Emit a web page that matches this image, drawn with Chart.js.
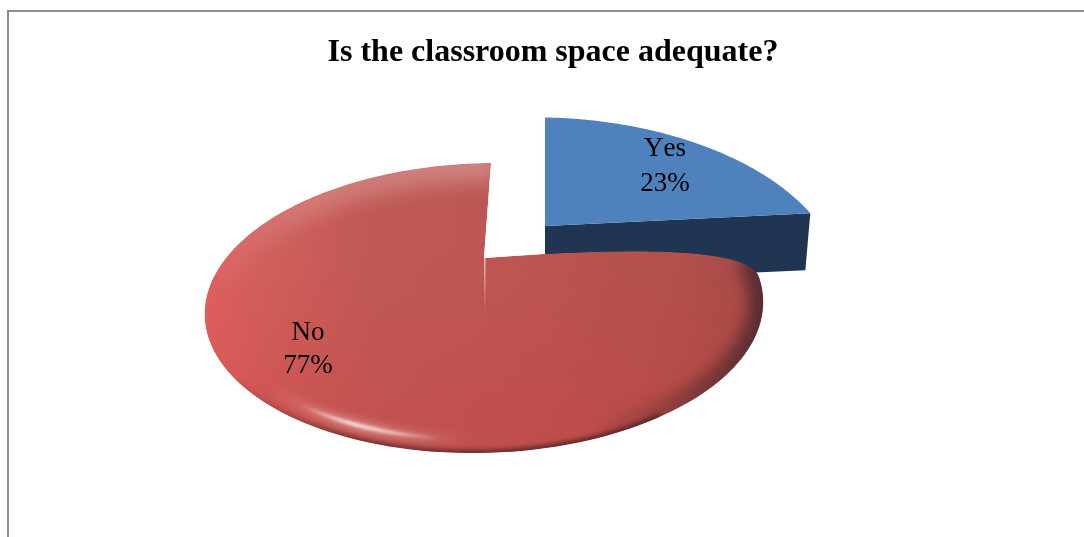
<!DOCTYPE html>
<html>
<head>
<meta charset="utf-8">
<title>Classroom space survey</title>
<script src="https://cdn.jsdelivr.net/npm/chart.js@4"></script>
<style>
  html, body { margin: 0; padding: 0; background: #fff; overflow: hidden; }
  #frame { position: absolute; left: 7px; top: 10px; width: 1077px; height: 527px;
           box-sizing: border-box; border-left: 2px solid #8c8c8c; border-top: 2px solid #8c8c8c; }
  #chart { position: absolute; left: 0; top: 0; }
</style>
</head>
<body>
<div id="frame"></div>
<canvas id="chart" width="1084" height="537"></canvas>
<script>
const titleText = 'Is the classroom space adequate?';
const categories = ['Yes', 'No'];
const shares = [23, 77];
const sliceColors = ['#4f81bd', '#c0504d'];
const sideColor = '#1f3552';
const serif = '"Liberation Serif", "Times New Roman", serif';

// Tilted-disc projection: each slice lies on its own plane, seen in perspective.
const planes = [
  { cx: 545, cy: 226, rx: 279, ry: 146, k: 0.345, m: 0, sx: 0, sy: -5 },
  { cx: 484, cy: 258, rx: 262, ry: 127.8, k: 0.345, m: -0.012, sx: 9.4, sy: 1 }
];
const labelAnchors = [{ x: 665, y: 149 }, { x: 308, y: 333 }];
const labelLeading = [35, 33];

// Chart.js angles start at 3 o'clock and run clockwise on screen.
function project(p, angle, r) {
  const u = Math.cos(angle) * r, v = -Math.sin(angle) * r;
  const w = 1 + p.k * v + p.m * u;
  return { x: p.cx + (p.rx * u + p.sx * v) / w, y: p.cy - (p.ry * v + p.sy * u) / w };
}
function rimPoints(p, a0, a1) {
  const pts = [], n = 160;
  for (let i = 0; i <= n; i++) pts.push(project(p, a0 + (a1 - a0) * i / n, 1));
  return pts;
}
function trace(ctx, pts) {
  pts.forEach((q, i) => i ? ctx.lineTo(q.x, q.y) : ctx.moveTo(q.x, q.y));
}
const deg = d => d * Math.PI / 180;
function fromTop(d) { return deg(d - 90); }

function strokeRim(ctx, p, d0, d1, width, blur, style) {
  ctx.save();
  ctx.filter = `blur(${blur}px)`;
  ctx.beginPath();
  trace(ctx, rimPoints(p, fromTop(d0), fromTop(d1)));
  ctx.lineWidth = width;
  ctx.lineCap = 'butt';
  ctx.strokeStyle = style;
  ctx.stroke();
  ctx.restore();
}

function drawYes(ctx, arc) {
  const p = planes[0];
  const apex = project(p, arc.startAngle, 0);
  const corner = project(p, arc.endAngle, 1);
  // cut face below the front edge
  ctx.beginPath();
  ctx.moveTo(apex.x, apex.y);
  ctx.lineTo(corner.x, corner.y);
  ctx.lineTo(corner.x - 5, corner.y + 57);
  ctx.lineTo(apex.x, apex.y + 56);
  ctx.closePath();
  ctx.fillStyle = sideColor;
  ctx.fill();
  // top surface
  ctx.beginPath();
  ctx.moveTo(apex.x, apex.y);
  rimPoints(p, arc.startAngle, arc.endAngle).forEach(q => ctx.lineTo(q.x, q.y));
  ctx.closePath();
  ctx.fillStyle = arc.options.backgroundColor;
  ctx.fill();
}

function drawNo(ctx, arc) {
  const p = planes[1];
  const apex = project(p, arc.startAngle, 0);
  const soft = arc.startAngle + deg(16);
  const c1 = project(p, arc.startAngle, 0.47);
  const c2 = project(p, arc.startAngle, 1);
  const end = project(p, soft, 1);
  const outline = new Path2D();
  outline.moveTo(apex.x, apex.y);
  outline.bezierCurveTo(c1.x - 5, c1.y - 1, c2.x + 14, c2.y + 2, end.x, end.y);
  rimPoints(p, soft, arc.endAngle).forEach(q => outline.lineTo(q.x, q.y));
  outline.closePath();

  ctx.save();
  ctx.clip(outline);

  const base = ctx.createLinearGradient(204, 0, 762, 0);
  base.addColorStop(0, '#e0625f');
  base.addColorStop(0.1, '#d25f5c');
  base.addColorStop(0.3, '#bf5a56');
  base.addColorStop(0.62, '#bb5551');
  base.addColorStop(0.85, '#b0504c');
  base.addColorStop(1, '#a44a47');
  ctx.fillStyle = base;
  ctx.fill(outline);

  const depth = ctx.createLinearGradient(0, 250, 0, 453);
  depth.addColorStop(0, 'rgba(205,60,60,0)');
  depth.addColorStop(0.75, 'rgba(200,60,60,0.25)');
  depth.addColorStop(1, 'rgba(200,60,60,0.28)');
  ctx.fillStyle = depth;
  ctx.fill(outline);

  // pale bevel along the far edge
  const pale = ctx.createLinearGradient(204, 0, 490, 0);
  pale.addColorStop(0, 'rgba(228,170,168,0)');
  pale.addColorStop(0.35, 'rgba(228,170,168,0.38)');
  pale.addColorStop(1, 'rgba(228,180,178,0.5)');
  strokeRim(ctx, p, 262, 362, 36, 10, pale);

  // shaded bevel on the right and near edges
  const right = ctx.createLinearGradient(590, 0, 762, 0);
  right.addColorStop(0, 'rgba(60,35,40,0)');
  right.addColorStop(1, 'rgba(60,35,40,0.72)');
  strokeRim(ctx, p, 90, 172, 30, 7, right);
  const near = ctx.createLinearGradient(230, 0, 560, 0);
  near.addColorStop(0, 'rgba(70,30,32,0)');
  near.addColorStop(0.35, 'rgba(70,30,32,0.55)');
  near.addColorStop(1, 'rgba(70,30,32,0.75)');
  strokeRim(ctx, p, 150, 250, 7, 2, near);

  // specular glint inside the near rim, with a soft halo around it
  const glintPts = [];
  for (let d = 180; d <= 222; d += 1) glintPts.push(project(p, fromTop(d), 0.952));
  const halo = ctx.createLinearGradient(270, 0, 470, 0);
  halo.addColorStop(0, 'rgba(255,235,232,0)');
  halo.addColorStop(0.45, 'rgba(255,235,232,0.4)');
  halo.addColorStop(1, 'rgba(255,235,232,0)');
  const glint = ctx.createLinearGradient(300, 0, 440, 0);
  glint.addColorStop(0, 'rgba(255,255,255,0)');
  glint.addColorStop(0.38, 'rgba(255,242,240,0.95)');
  glint.addColorStop(0.62, 'rgba(255,235,232,0.7)');
  glint.addColorStop(1, 'rgba(255,255,255,0)');
  [[10, 4, halo], [3.5, 1.5, glint]].forEach(([width, blur, style]) => {
    ctx.save();
    ctx.filter = `blur(${blur}px)`;
    ctx.beginPath();
    trace(ctx, glintPts);
    ctx.lineWidth = width;
    ctx.strokeStyle = style;
    ctx.stroke();
    ctx.restore();
  });

  // thin light seam running down from the centre
  const seam = ctx.createLinearGradient(0, apex.y, 0, apex.y + 54);
  seam.addColorStop(0, 'rgba(255,225,222,0.7)');
  seam.addColorStop(1, 'rgba(255,225,222,0)');
  ctx.save();
  ctx.filter = 'blur(0.6px)';
  ctx.fillStyle = seam;
  ctx.fillRect(apex.x, apex.y, 1.6, 54);
  ctx.restore();

  ctx.restore();
}

const perspectivePie = {
  id: 'perspectivePie',
  beforeDatasetsDraw(chart) {
    const ctx = chart.ctx;
    const arcs = chart.getDatasetMeta(0).data;
    drawYes(ctx, arcs[0]);
    drawNo(ctx, arcs[1]);
    ctx.save();
    ctx.fillStyle = '#000';
    ctx.font = '27px ' + serif;
    ctx.fontKerning = 'none';
    ctx.textAlign = 'center';
    ctx.textBaseline = 'middle';
    categories.forEach((name, i) => {
      const a = labelAnchors[i];
      ctx.fillText(name, a.x, a.y);
      ctx.fillText(shares[i] + '%', a.x, a.y + labelLeading[i]);
    });
    ctx.restore();
    return false;
  }
};

new Chart(document.getElementById('chart'), {
  type: 'pie',
  data: {
    labels: categories,
    datasets: [{ data: shares, backgroundColor: sliceColors, borderWidth: 0 }]
  },
  options: {
    responsive: false,
    animation: false,
    layout: { padding: { left: 22 } },
    plugins: {
      legend: { display: false },
      tooltip: { enabled: false },
      title: {
        display: true,
        text: titleText,
        color: '#000',
        font: { family: serif, size: 32, weight: 'bold' },
        padding: { top: 34, bottom: 10 }
      }
    }
  },
  plugins: [perspectivePie]
});
</script>
</body>
</html>
